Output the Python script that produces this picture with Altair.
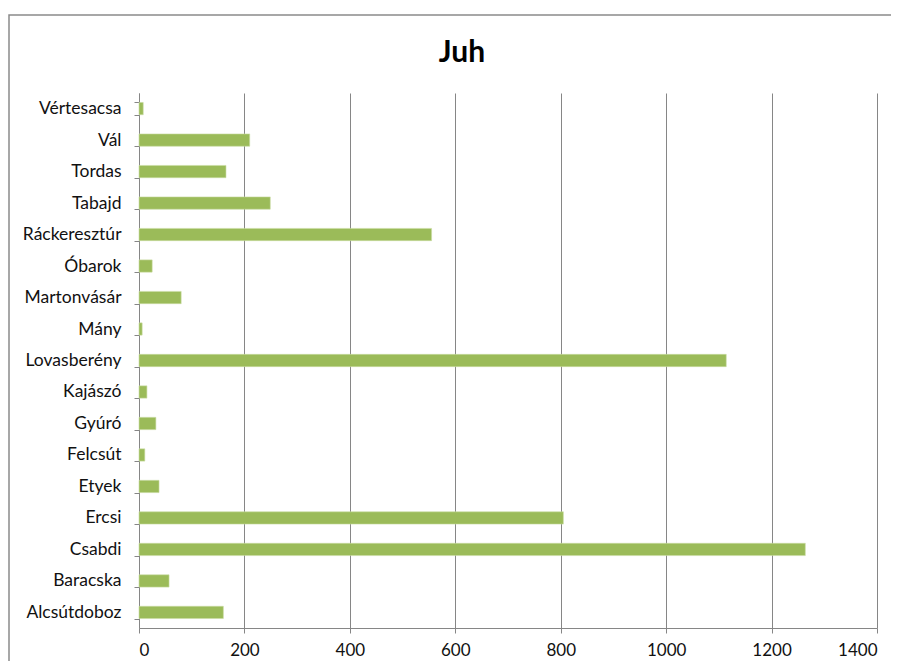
import altair as alt
import pandas as pd

categories = ["Alcsútdoboz", "Baracska", "Csabdi", "Ercsi", "Etyek", "Felcsút", "Gyúró",
              "Kajászó", "Lovasberény", "Mány", "Martonvásár", "Óbarok", "Ráckeresztúr",
              "Tabajd", "Tordas", "Vál", "Vértesacsa"]
values = [160, 57, 1264, 805, 38, 11, 32, 15, 1114, 6, 80, 25, 555, 249, 165, 210, 8]
x_ticks = [0, 200, 400, 600, 800, 1000, 1200, 1400]

df = pd.DataFrame({"telepules": categories, "juh": values})
order = list(reversed(categories))

FONT = "Lato"

bars = alt.Chart(df).mark_bar(color="#9BBB59", stroke="#C9DCA3", strokeWidth=0.6).encode(
    x=alt.X("juh:Q", scale=alt.Scale(domain=[0, 1400], nice=False),
            axis=alt.Axis(values=x_ticks, format="d", title=None, grid=True, gridColor="#868686",
                          gridWidth=1, domainColor="#868686", tickColor="#868686",
                          tickSize=5, labelPadding=9, labelFontSize=17, labelColor="#111",
                          labelFont=FONT)),
    y=alt.Y("telepules:N", sort=order,
            scale=alt.Scale(paddingInner=0.61, paddingOuter=0.3),
            axis=alt.Axis(title=None, tickBand="extent", domainColor="#868686",
                          tickColor="#868686", tickSize=5, labelPadding=13,
                          labelFontSize=17.5, labelColor="#111", labelFont=FONT)),
)

frame_df = pd.DataFrame({"k": [0]})
frame = alt.Chart(frame_df).mark_rect(filled=False, stroke="#8a8a8a", strokeWidth=1.5).encode(
    x=alt.value(-130), x2=alt.value(790), y=alt.value(-78), y2=alt.value(600)
)

chart = alt.layer(frame, bars).properties(
    width=738, height=535,
    padding={"left": 131, "top": 85, "right": 14, "bottom": 33},
    autosize=alt.AutoSizeParams(type="none"),
    background="white",
    title=alt.TitleParams("Juh", fontSize=30, font=FONT, fontWeight="bold",
                          anchor="middle", dx=-46, offset=0, dy=78, baseline="alphabetic",
                          frame="group", color="#000"),
).configure_view(stroke=None)

chart.save("out.html", embed_options={"renderer": "svg", "actions": False})
